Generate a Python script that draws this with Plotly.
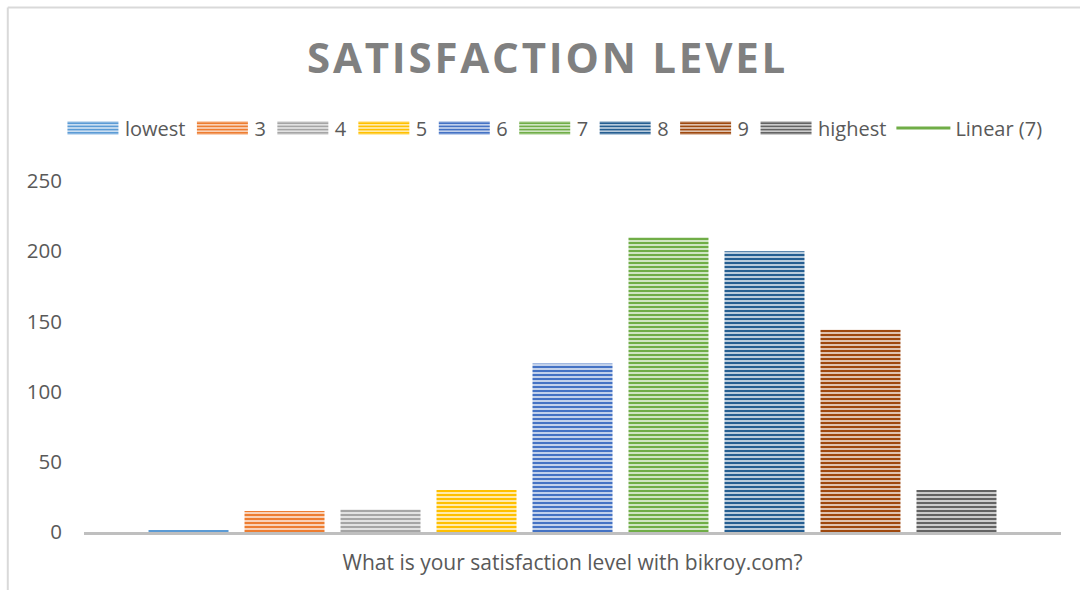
import plotly.graph_objects as go

category = ["What is your satisfaction level with bikroy.com?"]
series_names = ["lowest", "3", "4", "5", "6", "7", "8", "9", "highest"]
series_values = [1, 15, 16, 30, 120, 210, 200, 144, 30]
series_colors = ["#5B9BD5", "#ED7D31", "#A5A5A5", "#FFC000", "#4472C4",
                 "#70AD47", "#255E91", "#9E480E", "#636363"]
series_light = ["#D6E6F5", "#FBDCC7", "#E9E9E9", "#FFEFBF", "#D0DCF0",
                "#DBEBD1", "#C8D7E4", "#E6D1C2", "#D8D8D8"]
y_ticks = [0, 50, 100, 150, 200, 250]

FONT = "Open Sans"
TXT = "#595959"

fig = go.Figure()
for name, val, col, light in zip(series_names, series_values, series_colors, series_light):
    fig.add_trace(go.Bar(
        x=category, y=[val], name=name,
        marker=dict(color=light,
                    line=dict(width=0),
                    pattern=dict(shape="-", fgcolor=col, bgcolor=light,
                                 size=4, solidity=0.55, fillmode="replace")),
    ))

fig.add_trace(go.Scatter(x=category, y=[None], mode="lines", name="Linear (7)",
                         line=dict(color="#70AD47", width=3)))

fig.update_layout(
    width=1080, height=590,
    margin=dict(l=84, r=19, t=181, b=58),
    paper_bgcolor="white", plot_bgcolor="white",
    font=dict(family=FONT, color=TXT, size=20),
    barmode="group", bargap=0.1157, bargroupgap=0.1667,
    title=dict(text="<b>SATISFACTION LEVEL</b>", x=0.507, xanchor="center",
               y=0.902, yanchor="middle",
               font=dict(family=FONT, size=42, color="#808080")),
    legend=dict(orientation="h", x=-0.0236, xanchor="left",
                y=1.151, yanchor="middle",
                font=dict(size=20, color=TXT), itemwidth=54, traceorder="normal"),
    showlegend=True,
    shapes=[
        dict(type="line", xref="paper", yref="paper", x0=-0.078, x1=1.1, y0=1.494, y1=1.494,
             line=dict(color="#D9D9D9", width=2)),
        dict(type="line", xref="paper", yref="paper", x0=-0.078, x1=-0.078, y0=1.494, y1=-0.3,
             line=dict(color="#D9D9D9", width=2)),
    ],
)
fig.update_xaxes(type="category", showline=True, linecolor="#BFBFBF", linewidth=3,
                 ticks="outside", ticklen=10, tickcolor="rgba(0,0,0,0)",
                 tickfont=dict(size=21, color=TXT), showgrid=False)
fig.update_yaxes(range=[0, 250], tickvals=y_ticks, showgrid=False, zeroline=False,
                 showline=False, ticks="outside", ticklen=17, tickcolor="rgba(0,0,0,0)",
                 tickfont=dict(size=20.5, color=TXT))

post = """
document.body.style.margin = '0';
var st = document.createElement('style');
st.textContent = ".gtitle { letter-spacing: 2.8px; } " +
                 "g.legendpoints path { d: path('M25.5,7H-25.5V-7H25.5Z'); }";
document.head.appendChild(st);
(function(){
  var gd = document.getElementById('{plot_id}');
  function fix(){
    gd.querySelectorAll('g.legendpoints path').forEach(function(p){
      p.setAttribute('d', 'M25.5,7H-25.5V-7H25.5Z');
    });
  }
  fix();
  var n = 0;
  var iv = setInterval(function(){ fix(); n++; if (n > 30) clearInterval(iv); }, 50);
  if (gd.on) { gd.on('plotly_afterplot', fix); }
})();
"""

fig.write_html("out.html", post_script=post, config={"displayModeBar": False})
